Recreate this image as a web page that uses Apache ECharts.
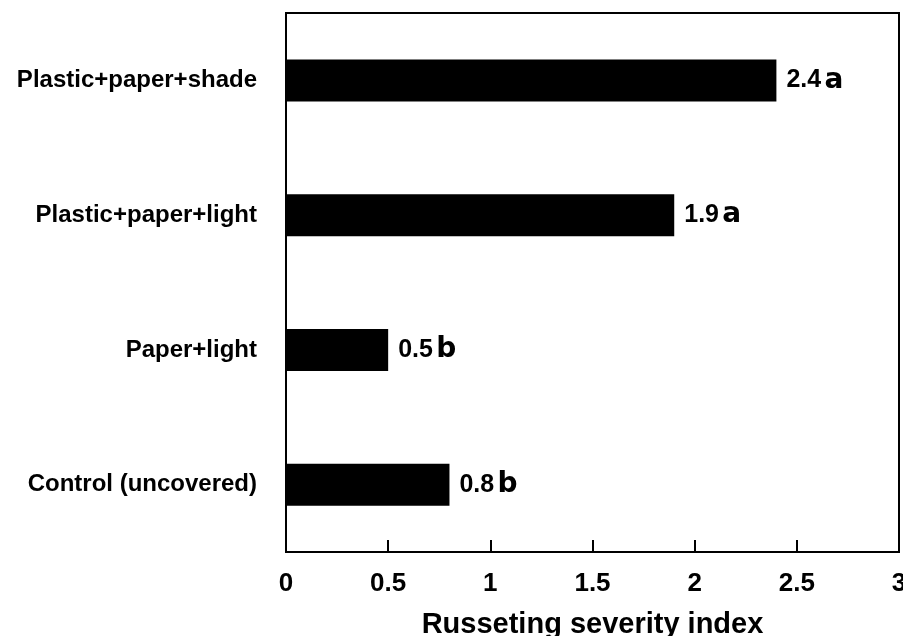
<!DOCTYPE html>
<html>
<head>
<meta charset="utf-8">
<script src="https://cdn.jsdelivr.net/npm/echarts@6/dist/echarts.min.js"></script>
<style>
  html, body { margin: 0; padding: 0; background: #fff; }
  #chart { width: 903px; height: 636px; }
</style>
</head>
<body>
<div id="chart"></div>
<script>
// categories listed top to bottom
const categories = ['Plastic+paper+shade', 'Plastic+paper+light', 'Paper+light', 'Control (uncovered)'];
const severity = [2.4, 1.9, 0.5, 0.8];
const letters = ['a', 'a', 'b', 'b'];
const xTicks = [0, 0.5, 1, 1.5, 2, 2.5, 3];

const font = '"Liberation Sans", Arial, Helvetica, sans-serif';

const chart = echarts.init(document.getElementById('chart'), null, { renderer: 'canvas' });

const option = {
  backgroundColor: '#fff',
  animation: false,
  grid: {
    left: 286,
    right: 4,
    top: 13,
    bottom: 84,
    outerBoundsMode: 'none',
    containLabel: false,
    show: true,
    borderColor: '#000',
    borderWidth: 2,
    backgroundColor: 'transparent'
  },
  xAxis: {
    type: 'value',
    min: xTicks[0],
    max: xTicks[xTicks.length - 1],
    interval: 0.5,
    name: 'Russeting severity index',
    nameLocation: 'middle',
    nameGap: 58,
    nameTextStyle: { fontFamily: font, fontWeight: 'bold', fontSize: 29, color: '#000' },
    axisLine: { show: true, lineStyle: { color: '#000', width: 2 } },
    axisTick: { show: true, inside: true, length: 12, lineStyle: { color: '#000', width: 2 } },
    axisLabel: { margin: 19, fontFamily: font, fontWeight: 'bold', fontSize: 26, color: '#000' },
    splitLine: { show: false }
  },
  yAxis: {
    type: 'category',
    inverse: true,
    data: categories,
    axisLine: { show: true, lineStyle: { color: '#000', width: 2 } },
    axisTick: { show: false },
    axisLabel: { margin: 29, fontFamily: font, fontWeight: 'bold', fontSize: 24, color: '#000' }
  },
  series: [{
    type: 'bar',
    data: severity,
    barWidth: 42,
    itemStyle: { color: '#000' },
    label: {
      show: true,
      position: 'right',
      distance: 10,
      formatter: p => '{v|' + p.value + '} {l|' + letters[p.dataIndex] + '}',
      rich: {
        v: { fontFamily: font, fontWeight: 'bold', fontSize: 25, color: '#000' },
        l: { fontFamily: '"DejaVu Sans", sans-serif', fontWeight: 'bold', fontSize: 28, color: '#000' }
      }
    }
  }]
};

chart.setOption(option);
</script>
</body>
</html>
